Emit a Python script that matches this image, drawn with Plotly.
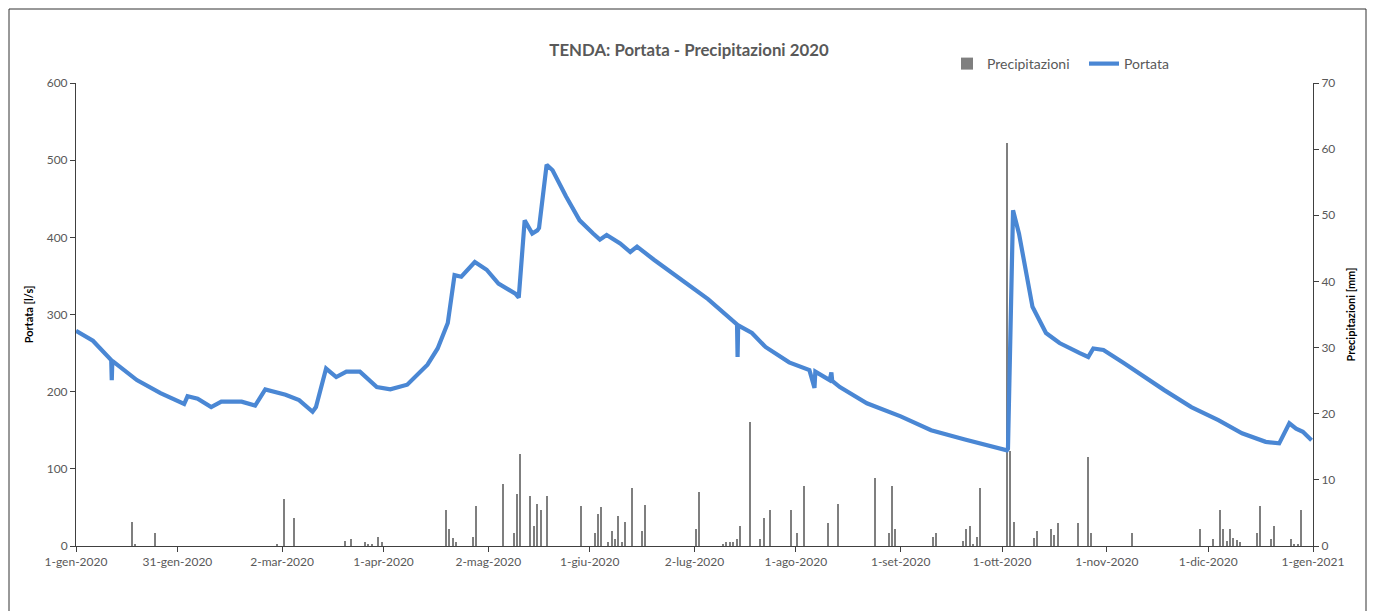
import plotly.graph_objects as go

# ---- Portata (l/s) ----
portata_dates = [
    "2020-01-01", "2020-01-06", "2020-01-11 10:00", "2020-01-11 14:00", "2020-01-11 18:00", "2020-01-19",
    "2020-01-26", "2020-02-02", "2020-02-03", "2020-02-06", "2020-02-10", "2020-02-13",
    "2020-02-19", "2020-02-23", "2020-02-26", "2020-03-03", "2020-03-07", "2020-03-11",
    "2020-03-12", "2020-03-15", "2020-03-18", "2020-03-21", "2020-03-25", "2020-03-30",
    "2020-04-03", "2020-04-08", "2020-04-14", "2020-04-17", "2020-04-20", "2020-04-22",
    "2020-04-24", "2020-04-28", "2020-05-01 12:00", "2020-05-05", "2020-05-10", "2020-05-11",
    "2020-05-12 18:00", "2020-05-15", "2020-05-16 12:00", "2020-05-17", "2020-05-19 06:00",
    "2020-05-21", "2020-05-25", "2020-05-29", "2020-06-02", "2020-06-04", "2020-06-06",
    "2020-06-10", "2020-06-13", "2020-06-15", "2020-06-20", "2020-06-28", "2020-07-06",
    "2020-07-14 14:00", "2020-07-14 18:00", "2020-07-14 22:00", "2020-07-19", "2020-07-23",
    "2020-07-30", "2020-08-05", "2020-08-06 12:00", "2020-08-06 18:00", "2020-08-11",
    "2020-08-11 12:00", "2020-08-11 18:00", "2020-08-14", "2020-08-22", "2020-09-01",
    "2020-09-10", "2020-09-20", "2020-09-30", "2020-10-02 10:00", "2020-10-02 18:00",
    "2020-10-04 06:00", "2020-10-06", "2020-10-08", "2020-10-10", "2020-10-14", "2020-10-18",
    "2020-10-24", "2020-10-26 12:00", "2020-10-28", "2020-10-31", "2020-11-06", "2020-11-12",
    "2020-11-18", "2020-11-26", "2020-12-04", "2020-12-11", "2020-12-18", "2020-12-22",
    "2020-12-25", "2020-12-27", "2020-12-29", "2020-12-31 14:00",
]
portata_values = [
    279, 266, 241, 215, 240, 215,
    198, 184, 194, 191, 180, 187,
    187, 182, 203, 196, 189, 174,
    180, 230, 219, 226, 226, 206,
    203, 209, 235, 256, 289, 351,
    349, 368, 358, 340, 327, 322,
    422, 405, 409, 412, 494,
    487, 453, 422, 405, 397, 403,
    392, 381, 388, 371, 345, 320,
    287, 245, 286, 276, 258,
    238, 228, 205, 226, 215,
    225, 214, 206, 185, 168,
    150, 138, 127, 124, 126,
    435, 405, 358, 310, 276, 263,
    250, 245, 256, 254, 237, 219,
    202, 180, 163, 146, 135, 133,
    159, 152, 148, 137,
]

# ---- Precipitazioni (mm) ----
prec_dates = [
    "2020-01-17", "2020-01-18", "2020-01-24", "2020-02-29", "2020-03-02", "2020-03-05",
    "2020-03-20", "2020-03-22", "2020-03-26", "2020-03-27", "2020-03-28", "2020-03-30",
    "2020-03-31", "2020-04-19", "2020-04-20", "2020-04-21", "2020-04-22", "2020-04-27",
    "2020-04-28", "2020-05-06", "2020-05-09", "2020-05-10", "2020-05-11", "2020-05-14",
    "2020-05-15", "2020-05-16", "2020-05-17", "2020-05-19", "2020-05-29", "2020-06-02",
    "2020-06-03", "2020-06-04", "2020-06-06", "2020-06-07", "2020-06-08", "2020-06-09",
    "2020-06-10", "2020-06-11", "2020-06-13", "2020-06-16", "2020-06-17", "2020-07-02",
    "2020-07-03", "2020-07-10", "2020-07-11", "2020-07-12", "2020-07-13", "2020-07-14",
    "2020-07-15", "2020-07-18", "2020-07-21", "2020-07-22", "2020-07-24", "2020-07-30",
    "2020-08-01", "2020-08-03", "2020-08-10", "2020-08-13", "2020-08-24", "2020-08-28",
    "2020-08-29", "2020-08-30", "2020-09-10", "2020-09-11", "2020-09-19", "2020-09-20",
    "2020-09-21", "2020-09-22", "2020-09-23", "2020-09-24", "2020-10-02", "2020-10-03",
    "2020-10-04", "2020-10-10", "2020-10-11", "2020-10-15", "2020-10-16", "2020-10-17",
    "2020-10-23", "2020-10-26", "2020-10-27", "2020-11-08", "2020-11-28", "2020-12-02",
    "2020-12-04", "2020-12-05", "2020-12-06", "2020-12-07", "2020-12-08", "2020-12-09",
    "2020-12-10", "2020-12-15", "2020-12-16", "2020-12-19", "2020-12-20", "2020-12-25",
    "2020-12-26", "2020-12-27", "2020-12-28",
]
prec_values = [
    3.6, 0.3, 2.0, 0.2, 7.1, 4.3,
    0.7, 1.0, 0.6, 0.3, 0.2, 1.3,
    0.6, 5.5, 2.6, 1.2, 0.6, 1.3,
    6.0, 9.4, 2.0, 7.9, 13.9, 7.6,
    3.0, 6.4, 5.5, 7.5, 6.0, 1.9,
    4.8, 5.9, 0.6, 2.2, 1.0, 4.6,
    0.6, 3.6, 8.7, 2.2, 6.2, 2.6,
    8.2, 0.3, 0.6, 0.6, 0.6, 1.0,
    3.0, 18.7, 1.0, 4.3, 5.5, 5.5,
    1.9, 9.1, 3.5, 6.3, 10.3, 1.9,
    9.1, 2.5, 1.4, 2.0, 0.7, 2.5,
    3.0, 0.3, 1.4, 8.7, 61.0, 14.4,
    3.7, 1.2, 2.2, 2.5, 1.7, 3.5,
    3.5, 13.4, 2.0, 1.9, 2.6, 1.0,
    5.4, 2.6, 0.7, 2.5, 1.2, 0.9,
    0.6, 2.0, 6.1, 1.0, 3.1, 1.0,
    0.2, 0.2, 5.4,
]

# ---- Axis ticks ----
tick_dates = [
    "2020-01-01", "2020-01-31", "2020-03-02", "2020-04-01", "2020-05-02", "2020-06-01",
    "2020-07-02", "2020-08-01", "2020-09-01", "2020-10-01", "2020-11-01", "2020-12-01",
    "2021-01-01",
]
tick_labels = [
    "1-gen-2020", "31-gen-2020", "2-mar-2020", "1-apr-2020", "2-mag-2020", "1-giu-2020",
    "2-lug-2020", "1-ago-2020", "1-set-2020", "1-ott-2020", "1-nov-2020", "1-dic-2020",
    "1-gen-2021",
]

FONT = "Lato, 'Open Sans', sans-serif"
GREY_TXT = "#595959"
AXIS_COL = "#404040"

# page body has an 8px margin; the figure is sized so the plot area lands on the reference
W, H = 1367, 603
ML, MR, MT, MB = 68, 62, 75, 65
PX0, PW = 76, 1237      # plot area left / width on screen
PY0, PH = 546, 463      # plot area bottom / height on screen

fig = go.Figure()
fig.add_trace(go.Bar(
    x=prec_dates, y=prec_values, name="Precipitazioni",
    marker=dict(color="#7f7f7f", line=dict(width=0)),
    width=0.4 * 86400000,
    xperiod=86400000, xperiodalignment="middle",
    yaxis="y",
))
fig.add_trace(go.Scatter(
    x=portata_dates, y=portata_values, name="Portata", mode="lines",
    line=dict(color="#4a87d4", width=4.2),
    yaxis="y2",
))

fig.update_layout(
    width=W, height=H,
    margin=dict(l=ML, r=MR, t=MT, b=MB, autoexpand=False),
    paper_bgcolor="white", plot_bgcolor="white",
    font=dict(family=FONT, size=12, color=GREY_TXT),
    title=dict(text="<b>TENDA: Portata - Precipitazioni 2020</b>",
               x=(689 - PX0) / PW, xanchor="center", xref="paper",
               y=1 - 42 / H, yanchor="middle",
               font=dict(family=FONT, size=16.8, color=GREY_TXT)),
    showlegend=True,
    legend=dict(orientation="h", x=(947 - PX0) / PW, xanchor="left",
                y=(PY0 - 64) / PH, yanchor="middle",
                font=dict(family=FONT, size=14, color=GREY_TXT), bgcolor="rgba(0,0,0,0)",
                entrywidth=92, entrywidthmode="pixels", traceorder="normal"),
    bargap=0,
    xaxis=dict(
        type="date", range=["2020-01-01", "2021-01-01"],
        tickmode="array", tickvals=tick_dates, ticktext=tick_labels,
        ticks="outside", ticklen=5, tickcolor=AXIS_COL,
        showline=True, linecolor=AXIS_COL, linewidth=1,
        showgrid=False, zeroline=False,
        tickfont=dict(family=FONT, size=12, color=GREY_TXT),
        anchor="y",
    ),
    yaxis=dict(
        side="right", range=[0, 70], dtick=10, tick0=0,
        ticks="outside", ticklen=5, tickcolor=AXIS_COL,
        showline=True, linecolor=AXIS_COL, linewidth=1,
        showgrid=False, zeroline=False,
        tickfont=dict(family=FONT, size=12, color=GREY_TXT),
        title=dict(text="<b>Precipitazioni [mm]</b>", standoff=12,
                   font=dict(family=FONT, size=11, color="black")),
    ),
    yaxis2=dict(
        overlaying="y", side="left", range=[0, 600], dtick=100, tick0=0,
        ticks="outside", ticklen=5, tickcolor=AXIS_COL,
        showline=True, linecolor=AXIS_COL, linewidth=1,
        showgrid=False, zeroline=False,
        tickfont=dict(family=FONT, size=12, color=GREY_TXT),
        title=dict(text="<b>Portata [l/s]</b>", standoff=10,
                   font=dict(family=FONT, size=11, color="black")),
    ),
)

# outer chart frame (screen px converted to plot-area paper units)
fig.add_shape(type="rect", xref="paper", yref="paper",
              x0=(9 - PX0) / PW, x1=(1366 - PX0) / PW,
              y0=(PY0 - 620) / PH, y1=(PY0 - 9) / PH,
              line=dict(color="#333333", width=1), fillcolor="rgba(0,0,0,0)", layer="below")

fig.write_html("out.html")
